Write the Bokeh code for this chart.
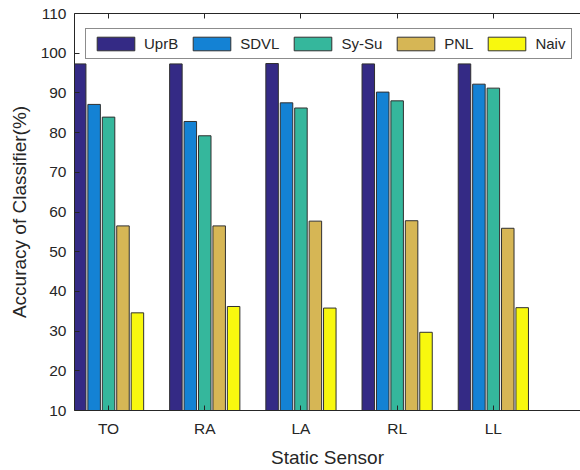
from bokeh.plotting import figure
from bokeh.models import (ColumnDataSource, Range1d, FixedTicker, LinearAxis,
                          Legend, LegendItem, CustomLabelingPolicy)
from bokeh.transform import dodge
from bokeh.embed import file_html
from bokeh.resources import INLINE

# Static-sensor classifier accuracy (%)
categories = ["TO", "RA", "LA", "RL", "LL"]
series = ["UprB", "SDVL", "Sy-Su", "PNL", "Naiv"]
uprb = [97.3, 97.3, 97.4, 97.3, 97.3]
sdvl = [87.1, 82.8, 87.5, 90.2, 92.2]
sysu = [83.9, 79.2, 86.2, 88.0, 91.2]
pnl = [56.5, 56.5, 57.7, 57.8, 55.9]
naiv = [34.6, 36.2, 35.8, 29.7, 35.9]
y_ticks = [10, 20, 30, 40, 50, 60, 70, 80, 90, 100, 110]

colors = ["#342a85", "#1482d4", "#35b79c", "#d6b655", "#f8f80e"]
text_color = "#262626"
font = "Liberation Sans"

positions = list(range(1, len(categories) + 1))
data = dict(pos=positions, UprB=uprb, SDVL=sdvl)
data["Sy-Su"] = sysu
data["PNL"] = pnl
data["Naiv"] = naiv
source = ColumnDataSource(data)

p = figure(width=580, height=470, output_backend="svg", toolbar_location=None,
           x_range=Range1d(0.646, 5.906), y_range=Range1d(10, 110),
           min_border_left=74, min_border_right=0, min_border_top=13,
           min_border_bottom=55)
p.outline_line_color = None
p.xgrid.visible = False
p.ygrid.visible = False
p.background_fill_color = "white"
p.border_fill_color = "white"

pitch = 0.15
bar_w = 0.13
renderers = []
for i, (name, col) in enumerate(zip(series, colors)):
    r = p.vbar(x=dodge("pos", (i - 2) * pitch, range=p.x_range), top=name,
               bottom=0, width=bar_w, source=source, fill_color=col,
               line_color="#303030", line_width=1)
    renderers.append(r)

# axes: ticks pointing inward, MATLAB-like styling
def style_axis(ax):
    ax.axis_line_color = text_color
    ax.major_tick_line_color = text_color
    ax.major_tick_in = 5
    ax.major_tick_out = 0
    ax.minor_tick_line_color = None
    ax.major_label_text_color = text_color
    ax.major_label_text_font = font
    ax.major_label_text_font_size = "15.5px"
    ax.axis_label_text_color = text_color
    ax.axis_label_text_font = font
    ax.axis_label_text_font_size = "19px"
    ax.axis_label_text_font_style = "normal"

xa = p.xaxis[0]
style_axis(xa)
xa.ticker = FixedTicker(ticks=positions)
xa.major_label_overrides = {pos: c for pos, c in zip(positions, categories)}
xa.major_label_standoff = 9
xa.axis_label = "Static Sensor"
xa.axis_label_standoff = 7

ya = p.yaxis[0]
style_axis(ya)
ya.ticker = FixedTicker(ticks=y_ticks)
ya.major_label_standoff = 8
ya.axis_label = "Accuracy of Classifier(%)"
ya.axis_label_standoff = 8

# top box edge with inward tick marks only (labels suppressed)
top_axis = LinearAxis(ticker=FixedTicker(ticks=positions))
style_axis(top_axis)
top_axis.major_label_text_font_size = "0px"
top_axis.major_label_standoff = 0
top_axis.major_label_policy = CustomLabelingPolicy(
    code="const all = [...indices]; for (const i of all) indices.unset(i);")
p.add_layout(top_axis, "above")

legend = Legend(items=[LegendItem(label=s, renderers=[r]) for s, r in zip(series, renderers)],
                orientation="horizontal", location=(11, 351),
                glyph_width=47, glyph_height=17, label_height=17,
                label_standoff=5, spacing=10, padding=6,
                label_text_font=font, label_text_font_size="15px",
                label_text_color=text_color,
                border_line_color="#1a1a1a", border_line_width=1.5,
                background_fill_color="white", background_fill_alpha=1)
p.add_layout(legend, "center")

open("out.html", "w").write(file_html(p, INLINE))
